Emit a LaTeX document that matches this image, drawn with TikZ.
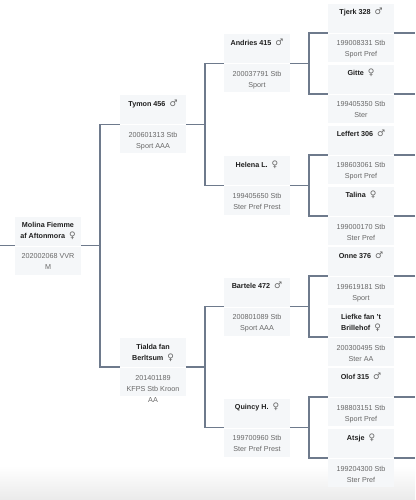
\documentclass[tikz,border=0pt]{standalone}
\usepackage{fontspec}
\setmainfont{Liberation Sans}
\newfontfamily\symfont{DejaVu Sans}
\usepackage{tikz}
\usetikzlibrary{positioning}

\definecolor{cardbg}{HTML}{F5F7F9}
\definecolor{linkgray}{HTML}{6E7A8C}
\definecolor{infogray}{HTML}{686868}
\newcommand{\symmale}{\hspace{4bp}{\symfont\mdseries\fontsize{9bp}{11bp}\selectfont\color{black!60}♂}}
\newcommand{\symfemale}{\hspace{4bp}{\symfont\mdseries\fontsize{9bp}{11bp}\selectfont\color{black!60}♀}}

\begin{document}
\begin{tikzpicture}[x=1bp, y=-1bp,
    namebox/.style={fill=cardbg, inner sep=0pt, outer sep=0pt, anchor=south west,
        font=\fontsize{7.2bp}{11bp}\selectfont\bfseries, text=black!88,
        execute at begin node={\begin{minipage}[t][29bp][t]{66bp}\centering\rule{0pt}{11bp}},
        execute at end node={\end{minipage}}},
    infobox/.style={fill=cardbg, inner sep=0pt, outer sep=0pt,
        font=\fontsize{7.2bp}{11bp}\selectfont, text=infogray,
        execute at begin node={\begin{minipage}[t][28bp][t]{66bp}\centering\rule{0pt}{12bp}},
        execute at end node={\end{minipage}}},
    link/.style={draw=linkgray, line width=1.1bp}]

    \useasboundingbox (0,0) rectangle (415,500);
    \shade[top color=white, bottom color=black!8] (0,466) rectangle (415,500); % page fade

    \coordinate (left) at (0,245.75);
    \coordinate (edge) at (415,0);

    % foal
    \node[namebox] (molina) at (15,245.75) {Molina Fiemme\\af Aftonmora\symfemale};
    \node[infobox, below=1bp of molina] (molina-info) {202002068 VVR\\M};

    % parents
    \node[namebox] (tymon) at (120,124.5) {Tymon 456\symmale};
    \node[infobox, below=1bp of tymon] (tymon-info) {200601313 Stb\\Sport AAA};
    \node[namebox] (tialda) at (120,367) {Tialda fan\\Berltsum\symfemale};
    \node[infobox, below=1bp of tialda] (tialda-info) {201401189\\KFPS Stb Kroon\\AA};

    % grandparents
    \node[namebox] (andries) at (224,63.5) {Andries 415\symmale};
    \node[infobox, below=1bp of andries] (andries-info) {200037791 Stb\\Sport};
    \node[namebox] (helena) at (224,185.5) {Helena L.\symfemale};
    \node[infobox, below=1bp of helena] (helena-info) {199405650 Stb\\Ster Pref Prest};
    \node[namebox] (bartele) at (224,306.5) {Bartele 472\symmale};
    \node[infobox, below=1bp of bartele] (bartele-info) {200801089 Stb\\Sport AAA};
    \node[namebox] (quincy) at (224,427.5) {Quincy H.\symfemale};
    \node[infobox, below=1bp of quincy] (quincy-info) {199700960 Stb\\Ster Pref Prest};

    % great-grandparents
    \node[namebox] (tjerk) at (328,33) {Tjerk 328\symmale};
    \node[infobox, below=1bp of tjerk] (tjerk-info) {199008331 Stb\\Sport Pref};
    \node[namebox] (gitte) at (328,94) {Gitte\symfemale};
    \node[infobox, below=1bp of gitte] (gitte-info) {199405350 Stb\\Ster};
    \node[namebox] (leffert) at (328,155) {Leffert 306\symmale};
    \node[infobox, below=1bp of leffert] (leffert-info) {198603061 Stb\\Sport Pref};
    \node[namebox] (talina) at (328,216) {Talina\symfemale};
    \node[infobox, below=1bp of talina] (talina-info) {199000170 Stb\\Ster Pref};
    \node[namebox] (onne) at (328,276) {Onne 376\symmale};
    \node[infobox, below=1bp of onne] (onne-info) {199619181 Stb\\Sport};
    \node[namebox] (liefke) at (328,337) {Liefke fan 't\\Brillehof\symfemale};
    \node[infobox, below=1bp of liefke] (liefke-info) {200300495 Stb\\Ster AA};
    \node[namebox] (olof) at (328,397) {Olof 315\symmale};
    \node[infobox, below=1bp of olof] (olof-info) {198803151 Stb\\Sport Pref};
    \node[namebox] (atsje) at (328,458) {Atsje\symfemale};
    \node[infobox, below=1bp of atsje] (atsje-info) {199204300 Stb\\Ster Pref};

    % links
    \draw[link] (left) -- (molina.south west);
    \draw[link] (molina.south east) -- ++(19,0) |- (tymon.south west);
    \draw[link] (molina.south east) -- ++(19,0) |- (tialda.south west);
    \draw[link] (tymon.south east) -- ++(19,0) |- (andries.south west);
    \draw[link] (tymon.south east) -- ++(19,0) |- (helena.south west);
    \draw[link] (tialda.south east) -- ++(19,0) |- (bartele.south west);
    \draw[link] (tialda.south east) -- ++(19,0) |- (quincy.south west);
    \draw[link] (andries.south east) -- ++(19,0) |- (tjerk.south west);
    \draw[link] (andries.south east) -- ++(19,0) |- (gitte.south west);
    \draw[link] (helena.south east) -- ++(19,0) |- (leffert.south west);
    \draw[link] (helena.south east) -- ++(19,0) |- (talina.south west);
    \draw[link] (bartele.south east) -- ++(19,0) |- (onne.south west);
    \draw[link] (bartele.south east) -- ++(19,0) |- (liefke.south west);
    \draw[link] (quincy.south east) -- ++(19,0) |- (olof.south west);
    \draw[link] (quincy.south east) -- ++(19,0) |- (atsje.south west);
    \draw[link] (tjerk.south east) -- (tjerk.south east -| edge);
    \draw[link] (gitte.south east) -- (gitte.south east -| edge);
    \draw[link] (leffert.south east) -- (leffert.south east -| edge);
    \draw[link] (talina.south east) -- (talina.south east -| edge);
    \draw[link] (onne.south east) -- (onne.south east -| edge);
    \draw[link] (liefke.south east) -- (liefke.south east -| edge);
    \draw[link] (olof.south east) -- (olof.south east -| edge);
    \draw[link] (atsje.south east) -- (atsje.south east -| edge);

\end{tikzpicture}
\end{document}
